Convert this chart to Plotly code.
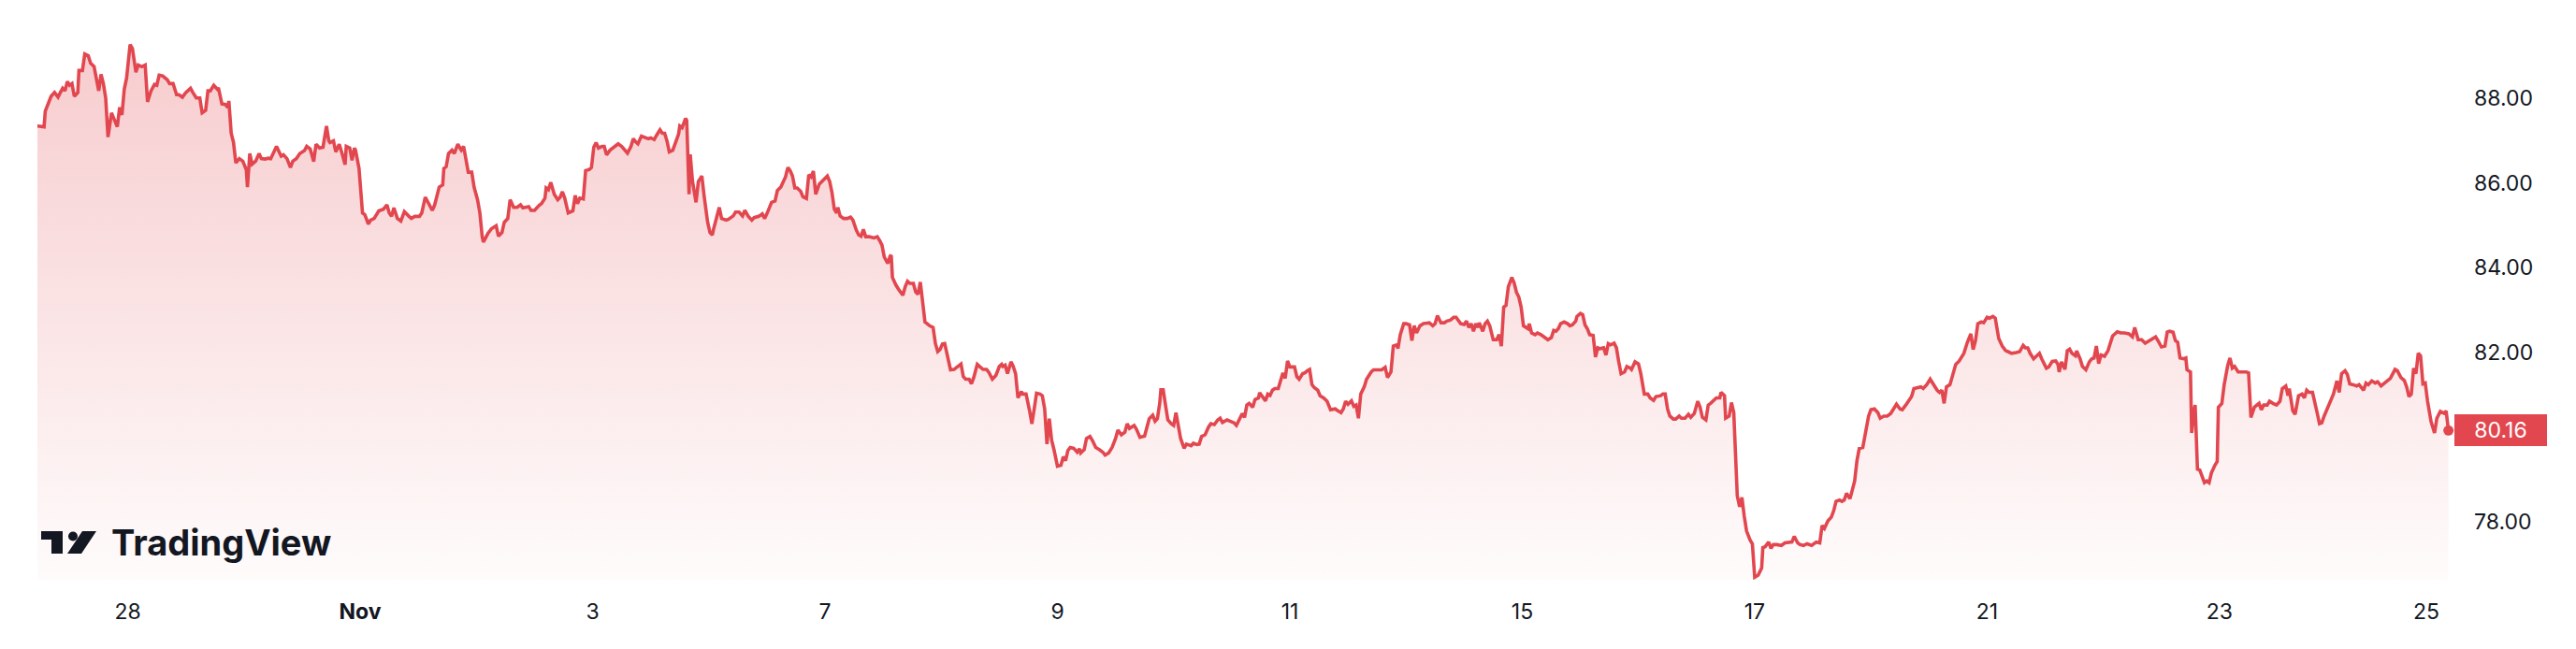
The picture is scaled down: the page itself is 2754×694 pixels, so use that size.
import plotly.graph_objects as go

# ---- data (x in trading-day units from the "28" tick, y = price) ----
days = [
 -0.78,-0.72,-0.71,-0.66,-0.63,-0.60,-0.58,-0.56,-0.54,-0.52,-0.50,-0.48,-0.46,-0.43,-0.42,-0.39,-0.37,-0.34,-0.32,-0.29,
 -0.25,-0.23,-0.21,-0.19,-0.17,-0.14,-0.12,-0.09,-0.07,-0.05,-0.03,-0.01,0.02,0.04,0.07,0.09,0.12,0.15,0.17,0.20,
 0.23,0.25,0.27,0.30,0.34,0.36,0.39,0.42,0.44,0.47,0.50,0.54,0.56,0.59,0.62,0.64,0.67,0.69,0.71,0.74,
 0.77,0.78,0.81,0.84,0.86,0.87,0.89,0.91,0.93,0.96,0.99,1.02,1.03,1.05,1.07,1.10,1.13,1.15,1.18,1.21,
 1.23,1.28,1.32,1.34,1.37,1.40,1.42,1.45,1.48,1.52,1.54,1.57,1.60,1.62,1.65,1.68,1.71,1.73,1.74,1.77,
 1.79,1.82,1.84,1.87,1.88,1.91,1.93,1.95,1.96,1.99,2.02,2.04,2.07,2.09,2.12,2.16,2.20,2.23,2.25,2.27,
 2.29,2.32,2.35,2.38,2.42,2.44,2.47,2.51,2.53,2.56,2.59,2.62,2.64,2.66,2.68,2.71,2.72,2.74,2.76,2.79,
 2.81,2.84,2.87,2.89,2.93,2.96,2.98,3.01,3.03,3.05,3.06,3.10,3.13,3.17,3.19,3.22,3.24,3.27,3.29,
 3.30,3.32,3.35,3.38,3.40,3.43,3.45,3.47,3.50,3.54,3.56,3.59,3.60,3.62,3.64,3.67,3.70,3.72,3.74,3.76,
 3.79,3.83,3.85,3.87,3.89,3.92,3.94,3.97,3.99,4.01,4.03,4.05,4.08,4.10,4.12,4.15,4.18,4.22,4.25,4.28,
 4.30,4.33,4.35,4.37,4.39,4.42,4.45,4.48,4.50,4.53,4.55,4.58,4.60,4.62,4.64,4.66,4.69,4.72,4.74,4.75,
 4.77,4.80,4.81,4.83,4.84,4.86,4.88,4.89,4.91,4.94,4.96,4.99,5.01,5.03,5.04,5.07,5.09,5.11,5.15,5.17,
 5.21,5.23,5.26,5.29,5.31,5.34,5.37,5.39,5.43,5.46,5.48,5.50,5.52,5.54,5.57,5.59,5.62,5.64,5.66,5.68,
 5.70,5.72,5.74,5.76,5.79,5.81,5.84,5.86,5.88,5.90,5.92,5.95,5.97,6.00,6.02,6.04,6.06,6.08,6.10,6.11,
 6.13,6.16,6.19,6.22,6.24,6.27,6.29,6.31,6.33,6.35,6.38,6.42,6.45,6.47,6.49,6.51,6.54,6.56,6.57,6.58,
 6.61,6.64,6.67,6.69,6.71,6.73,6.76,6.78,6.80,6.82,6.84,6.86,6.90,6.93,6.95,6.97,6.99,7.01,7.03,7.05,
 7.08,7.11,7.13,7.17,7.19,7.21,7.24,7.26,7.28,7.31,7.33,7.36,7.39,7.41,7.44,
 7.47,7.50,7.52,7.53,7.55,7.57,7.60,7.62,7.64,7.66,7.69,7.70,7.73,7.76,7.78,7.80,7.82,7.85,7.87,7.89,
 7.91,7.93,7.95,7.97,7.99,8.00,8.03,8.05,8.07,8.09,8.11,8.14,8.17,8.19,8.20,8.23,8.25,8.28,8.30,8.33,
 8.36,8.39,8.41,8.44,8.47,8.50,8.52,8.55,8.58,8.60,8.62,8.66,8.68,8.71,8.75,8.77,8.79,8.82,8.84,8.86,
 8.88,8.89,8.91,8.93,8.95,8.98,9.00,9.02,9.04,9.06,9.09,9.11,9.15,9.17,9.20,9.22,9.24,9.27,9.30,9.32,
 9.35,9.38,9.40,9.42,9.46,9.49,9.52,9.54,9.57,9.59,9.61,9.63,9.65,9.68,9.70,9.73,9.74,9.77,9.79,9.81,
 9.83,9.85,9.87,9.90,9.92,9.94,9.96,9.98,10.00,10.04,10.06,10.08,10.11,10.13,10.15,10.17,10.19,10.21,10.24,10.26,
 10.29,10.32,10.35,10.39,10.41,10.44,10.46,10.48,10.50,10.53,10.55,10.57,10.59,10.61,10.64,10.66,10.70,10.72,10.76,10.79,
 10.82,10.84,10.87,10.89,10.92,10.93,10.95,10.98,11.00,11.03,11.05,11.07,11.09,11.12,11.15,11.18,11.20,11.23,11.25,11.27,
 11.30,11.33,11.35,11.38,11.41,11.43,11.45,11.47,11.50,11.52,11.54,11.56,11.58,11.60,
 11.62,11.63,11.66,11.68,11.70,11.72,11.75,11.78,11.80,11.82,11.84,11.86,11.88,11.91,11.93,11.95,11.97,11.99,12.01,12.05,
 12.06,12.08,12.11,12.13,12.16,12.19,12.22,12.25,12.27,12.29,12.31,12.33,12.36,12.39,12.41,12.43,12.46,12.47,12.50,12.52,
 12.54,12.56,12.58,12.61,12.63,12.65,12.67,12.70,12.72,12.74,12.76,12.79,12.81,12.83,12.85,12.88,12.90,12.93,12.94,12.97,
 13.00,13.02,13.04,13.05,13.08,13.10,13.13,13.15,13.19,13.21,13.23,13.25,13.27,13.30,13.32,13.35,13.37,13.40,13.43,13.45,
 13.48,13.51,13.53,13.55,13.58,13.60,13.62,13.64,13.67,13.70,13.71,13.74,13.75,13.78,13.80,13.82,13.84,13.85,13.87,13.89,
 13.91,13.93,13.96,13.98,14.00,14.03,14.06,14.07,14.09,14.12,14.14,14.16,14.19,14.23,14.26,14.29,14.32,14.34,14.37,14.39,
 14.42,14.45,14.49,14.53,14.56,14.58,14.60,14.63,14.66,14.68,14.70,14.73,14.75,14.77,14.79,14.82,14.83,14.86,14.88,14.90,
 14.93,14.96,14.98,15.00,15.03,15.06,15.08,15.11,15.14,15.17,15.20,15.22,15.25,15.27,15.30,15.33,15.35,15.37,15.40,15.43,
 15.45,15.48,15.51,15.55,15.57,15.59,15.61,15.63,15.65,15.68,15.71,15.73,15.76,
 15.78,15.80,15.83,15.86,15.88,15.90,15.92,15.95,15.97,16.00,16.02,16.05,16.07,16.10,16.13,16.16,16.18,16.21,16.25,16.28,
 16.31,16.33,16.35,16.37,16.40,16.43,16.45,16.47,16.51,16.53,16.56,16.59,16.61,16.62,16.64,16.67,16.69,16.71,16.73,16.76,
 16.77,16.80,16.82,16.85,16.88,16.90,16.92,16.94,16.96,16.98,17.01,17.04,17.06,17.08,17.12,17.15,17.18,17.22,17.25,17.27,
 17.30,17.33,17.36,17.39,17.42,17.45,17.47,17.50,17.53,17.55,17.57,17.60,17.62,17.64,17.66,17.69,17.71,17.72,17.75,17.76,
 17.78,17.79,17.81,17.83,17.87,17.89,17.91,17.93,17.96,17.98,17.99,18.02,18.04,18.07,18.09,18.11,18.13,18.16,18.20,18.23,
 18.25,18.27,18.30,18.32,18.34,18.36,18.38,18.41,18.43,18.46,18.49,18.52,18.54,18.57,18.59,18.60,18.63,18.65,18.68,18.71,
 18.73,18.75,18.77,18.80,18.82,18.84,18.86,18.88,18.90,18.93,18.96,18.98,19.01,19.03,19.05,19.08,19.10,19.12,19.15,19.18,
 19.20,19.24,19.26,19.28,19.31,19.34,19.36,19.39,19.42,19.44,19.47,19.51,19.53,19.56,19.59,19.61,19.63,19.65,19.67,19.69,
 19.71,19.73,19.75,19.77,19.79,19.82,19.85,19.87,19.90,19.93,19.95,19.97,
]
prices = [
 87.34,87.32,87.69,88.04,88.13,88.02,88.13,88.23,88.17,88.39,88.30,88.34,88.04,88.13,88.65,88.65,89.04,89.00,88.82,88.74,
 88.17,88.56,88.34,88.00,87.08,87.65,87.52,87.32,87.78,87.60,88.21,88.47,89.26,89.17,88.61,88.78,88.74,88.78,87.91,88.17,
 88.32,88.30,88.54,88.52,88.43,88.34,88.34,88.08,88.08,88.02,88.13,88.23,88.13,88.00,88.00,87.65,87.71,88.17,88.17,88.30,
 88.21,88.24,87.86,87.85,87.78,87.93,87.17,86.95,86.47,86.57,86.51,86.31,85.90,86.69,86.44,86.51,86.69,86.57,86.56,86.58,
 86.57,86.86,86.63,86.66,86.57,86.36,86.51,86.57,86.69,86.76,86.86,86.80,86.50,86.91,86.82,86.84,87.34,86.99,86.95,86.99,
 86.73,86.91,86.73,86.43,86.86,86.82,86.53,86.82,86.77,86.34,85.29,85.25,85.03,85.12,85.16,85.34,85.38,85.48,85.29,85.21,
 85.41,85.16,85.10,85.32,85.21,85.16,85.21,85.21,85.29,85.66,85.51,85.35,85.47,85.73,85.90,85.95,86.34,86.38,86.69,86.77,
 86.69,86.91,86.77,86.86,86.25,86.25,85.90,85.60,85.29,84.73,84.60,84.81,84.92,84.99,84.74,84.83,85.07,85.16,85.60,
 85.55,85.42,85.42,85.48,85.41,85.42,85.44,85.35,85.35,85.47,85.51,85.64,85.88,85.84,86.01,85.73,85.60,85.66,85.79,85.64,
 85.29,85.34,85.70,85.51,85.64,85.62,86.29,86.31,86.36,86.84,86.95,86.82,86.86,86.86,86.66,86.77,86.84,86.92,86.86,86.77,
 86.70,86.86,87.04,86.97,86.92,87.10,87.08,87.04,87.06,87.02,87.12,87.25,87.17,87.17,86.99,86.73,86.77,86.97,87.15,87.34,
 87.30,87.52,87.47,85.73,86.67,86.03,85.68,85.54,86.03,86.16,85.68,85.07,84.83,84.77,84.90,85.21,85.42,85.16,85.12,85.14,
 85.22,85.31,85.31,85.22,85.35,85.21,85.12,85.18,85.21,85.27,85.16,85.27,85.41,85.54,85.57,85.82,85.90,86.01,86.14,86.36,
 86.29,86.16,85.88,85.88,85.80,85.67,85.63,86.19,86.14,86.28,85.73,85.97,86.03,86.10,86.16,86.03,85.77,85.38,85.29,85.42,
 85.22,85.16,85.16,85.19,85.12,84.88,84.77,84.74,84.90,84.73,84.73,84.70,84.73,84.64,84.53,84.25,84.10,84.27,84.29,83.77,
 83.59,83.46,83.35,83.55,83.68,83.63,83.63,83.43,83.37,83.66,83.20,82.72,82.63,82.59,82.21,82.02,82.07,82.20,82.21,81.94,
 81.59,81.60,81.65,81.73,81.43,81.37,81.37,81.26,81.41,81.72,81.67,81.60,81.60,81.53,81.37,
 81.46,81.67,81.72,81.67,81.70,81.50,81.78,81.67,81.50,80.93,81.08,81.02,81.02,80.63,80.32,80.67,81.04,81.02,80.98,80.67,
 79.84,80.44,79.93,79.71,79.41,79.32,79.34,79.54,79.45,79.69,79.76,79.74,79.65,79.73,79.63,79.71,79.97,80.02,79.93,79.76,
 79.71,79.65,79.58,79.63,79.76,79.97,80.17,80.06,80.12,80.32,80.21,80.28,80.19,80.00,80.03,80.24,80.44,80.52,80.38,80.44,
 80.80,81.12,81.12,80.76,80.41,80.32,80.28,80.58,80.28,79.97,79.74,79.84,79.80,79.86,79.83,79.84,80.02,80.06,80.24,80.32,
 80.30,80.41,80.45,80.35,80.41,80.37,80.34,80.28,80.47,80.56,80.47,80.76,80.80,80.71,80.89,80.93,81.05,80.93,80.86,81.02,
 80.99,81.11,81.15,81.15,81.37,81.52,81.39,81.80,81.66,81.66,81.43,81.37,81.50,81.52,81.57,81.60,81.24,81.17,81.11,80.98,
 80.93,80.85,80.65,80.67,80.63,80.58,80.67,80.85,80.78,80.86,80.73,80.76,80.45,81.02,81.19,81.37,81.54,81.59,81.59,81.59,
 81.65,81.41,81.54,82.15,82.18,82.09,82.42,82.68,82.68,82.65,82.28,82.63,82.46,82.63,82.68,82.70,82.70,82.63,82.68,82.87,
 82.70,82.70,82.74,82.76,82.83,82.83,82.76,82.68,82.66,82.74,82.59,82.68,82.50,82.68,
 82.59,82.70,82.50,82.68,82.74,82.63,82.30,82.30,82.42,82.15,83.07,83.11,83.55,83.77,83.64,83.42,83.31,83.07,82.63,82.56,
 82.68,82.46,82.42,82.46,82.42,82.37,82.30,82.35,82.52,82.50,82.56,82.68,82.72,82.68,82.63,82.65,82.74,82.85,82.92,82.89,
 82.65,82.56,82.42,82.40,81.89,82.11,82.09,82.11,81.94,82.21,82.18,82.22,82.11,81.78,81.50,81.54,81.67,81.63,81.60,81.78,
 81.73,81.50,81.19,81.02,81.02,80.93,80.87,80.96,80.98,81.02,81.02,80.67,80.50,80.43,80.43,80.50,80.45,80.45,80.54,80.47,
 80.56,80.85,80.71,80.47,80.41,80.76,80.80,80.85,80.93,80.93,81.06,80.98,80.45,80.50,80.82,80.58,79.06,78.62,78.36,78.58,
 78.14,77.79,77.58,77.49,76.70,76.75,76.92,77.40,77.42,77.53,77.38,77.47,77.47,77.45,77.51,77.53,77.53,77.66,77.51,77.47,
 77.45,77.49,77.45,77.53,77.51,77.92,77.85,78.03,78.12,78.27,78.49,78.52,78.49,78.52,78.68,78.55,78.67,78.97,79.45,79.74,
 79.76,80.19,80.50,80.65,80.67,80.58,80.45,80.50,80.50,80.56,80.71,80.78,80.67,80.65,80.76,80.89,80.96,81.15,81.17,81.19,
 81.15,81.24,81.37,81.19,81.11,81.06,81.11,80.80,81.19,81.24,81.54,81.72,81.80,
 81.89,81.98,82.24,82.44,82.07,82.28,82.68,82.72,82.70,82.83,82.81,82.85,82.81,82.33,82.15,82.04,82.02,81.98,82.00,82.02,
 82.17,82.11,82.11,81.98,81.85,81.92,81.98,81.85,81.63,81.66,81.79,81.80,81.72,81.54,81.78,81.60,82.04,82.08,81.98,81.92,
 82.04,81.85,81.67,81.59,81.78,81.85,81.87,82.15,81.74,81.94,81.91,82.04,82.21,82.39,82.49,82.46,82.46,82.44,82.37,82.59,
 82.30,82.30,82.22,82.27,82.33,82.37,82.28,82.13,82.15,82.48,82.50,82.48,82.28,82.24,81.87,81.85,81.87,81.59,81.54,80.10,
 80.63,80.76,79.25,79.23,78.93,78.97,78.93,79.16,79.34,79.43,80.71,80.80,81.24,81.69,81.87,81.63,81.67,81.54,81.54,81.54,
 81.52,80.47,80.71,80.76,80.80,80.65,80.76,80.76,80.85,80.80,80.76,80.85,81.15,81.21,80.98,81.15,80.63,80.54,80.98,81.02,
 80.93,81.11,81.06,81.06,80.85,80.58,80.32,80.34,80.50,80.71,80.87,81.02,81.33,81.06,81.50,81.57,81.48,81.26,81.24,81.21,
 81.24,81.11,81.28,81.24,81.33,81.28,81.31,81.21,81.28,81.33,81.39,81.60,81.57,81.41,81.34,81.19,80.96,81.02,81.63,81.50,
 81.98,81.92,81.26,81.28,80.85,80.37,80.10,80.45,80.61,80.57,80.62,80.16,
]

tick_days = [0, 2, 4, 6, 8, 10, 12, 14, 16, 18, 19.78]
tick_labels = ["28", "<b>Nov</b>", "3", "7", "9", "11", "15", "17", "21", "23", "25"]
price_ticks = [78, 82, 84, 86, 88]
price_labels = ["78.00", "82.00", "84.00", "86.00", "88.00"]

LINE = "#e2474f"
TEXT = "#131722"
FONT = "Inter"

fig = go.Figure()
fig.add_trace(go.Scatter(
    x=days, y=prices, mode="lines",
    line=dict(color=LINE, width=3.6),
    fill="tozeroy",
    fillgradient=dict(
        type="vertical",
        colorscale=[[0, "rgba(226,71,79,0.02)"], [1, "rgba(226,71,79,0.28)"]],
        start=76.64, stop=89.3,
    ),
    hoverinfo="skip", showlegend=False,
))
fig.add_trace(go.Scatter(
    x=[days[-1]], y=[prices[-1]], mode="markers",
    marker=dict(color=LINE, size=11), cliponaxis=False,
    hoverinfo="skip", showlegend=False,
))

# price label on the right scale
fig.add_annotation(
    xref="paper", yref="y", x=1, y=prices[-1], xanchor="left", yanchor="middle",
    text=f"{prices[-1]:.2f}", showarrow=False,
    font=dict(family=FONT, size=23, color="white"),
    bgcolor=LINE, borderpad=0, borderwidth=0, width=99, height=34, align="center",
)

# TradingView watermark
fig.add_annotation(
    xref="paper", yref="paper", x=0.0298, y=0.0645, xanchor="left", yanchor="middle",
    text="<b>TradingView</b>", showarrow=False,
    font=dict(family=FONT, size=38, color=TEXT),
)
fig.add_shape(type="path", xref="paper", yref="paper",
              path="M 0.00155 0.08387 L 0.01045 0.08387 L 0.01045 0.04516 L 0.00580 0.04516 L 0.00580 0.06935 L 0.00155 0.06935 Z",
              fillcolor=TEXT, line=dict(width=0))
fig.add_shape(type="circle", xref="paper", yref="paper",
              x0=0.01277, x1=0.01664, y0=0.06694, y1=0.08306,
              fillcolor=TEXT, line=dict(width=0))
fig.add_shape(type="path", xref="paper", yref="paper",
              path="M 0.01858 0.08387 L 0.02438 0.08387 L 0.01819 0.04516 L 0.01238 0.04516 Z",
              fillcolor=TEXT, line=dict(width=0))

fig.update_layout(
    width=2754, height=694,
    margin=dict(l=40, r=130, t=0, b=74),
    paper_bgcolor="white", plot_bgcolor="white",
    showlegend=False,
    hovermode=False,
    font=dict(family=FONT, color=TEXT, size=23),
    xaxis=dict(
        range=[-0.7775, 20.021], tickmode="array", tickvals=tick_days, ticktext=tick_labels,
        showgrid=False, zeroline=False, showline=False, ticks="",
        tickfont=dict(family=FONT, size=23, color=TEXT), ticklabelstandoff=18,
        fixedrange=True,
    ),
    yaxis=dict(
        side="right", range=[76.64, 90.311], tickmode="array",
        tickvals=price_ticks, ticktext=price_labels,
        showgrid=False, zeroline=False, showline=False, ticks="",
        tickfont=dict(family=FONT, size=23, color=TEXT), ticklabelstandoff=20,
        fixedrange=True,
    ),
)

fig.write_html(
    "out.html",
    config={"displayModeBar": False, "staticPlot": True},
    post_script="document.body.style.margin='0px';document.body.style.padding='0px';",
)
